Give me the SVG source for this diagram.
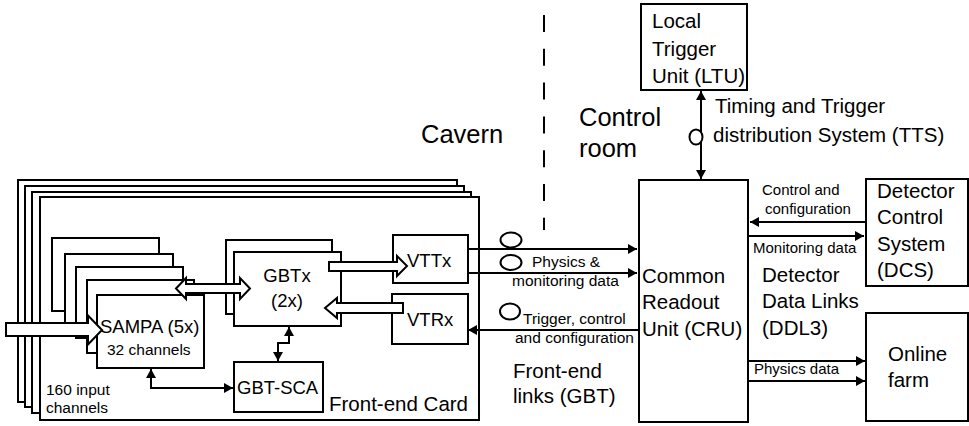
<svg xmlns="http://www.w3.org/2000/svg" width="969" height="426" viewBox="0 0 969 426">
<style>
.b{fill:#fff;stroke:#000;stroke-width:2}
.ba{fill:#fff;stroke:#000;stroke-width:2;stroke-linejoin:miter}
.l{fill:none;stroke:#000;stroke-width:2}
.ring{fill:#fff;stroke:#000;stroke-width:2}
text{font-family:"Liberation Sans",Arial,sans-serif;fill:#000}
.t26{font-size:25.5px}
.t21{font-size:20.5px}
.t18{font-size:18.5px}
.t15{font-size:15.5px}
.t15s{font-size:15px}
.m{text-anchor:middle}
</style>
<defs>
<marker id="ah" markerUnits="userSpaceOnUse" markerWidth="10" markerHeight="10" refX="9" refY="5" orient="auto-start-reverse">
<path d="M0,0 L9,5 L0,10 Z" fill="#000"/>
</marker>
</defs>

<line x1="544" y1="15" x2="544" y2="230" stroke="#000" stroke-width="2" stroke-dasharray="17 16.8"/>
<text class="t26" x="421" y="143">Cavern</text>
<text class="t26" x="579" y="126">Control</text>
<text class="t26" x="579" y="157">room</text>

<g id="frontend-card">
<rect class="b" x="18" y="180" width="439" height="222"/>
<rect class="b" x="25" y="186" width="439" height="221"/>
<rect class="b" x="32" y="192" width="439" height="221"/>
<rect class="b" x="40" y="197" width="439" height="223"/>
<text class="t21" x="329" y="411">Front-end Card</text>
<text class="t15" x="46" y="395">160 input</text>
<text class="t15" x="46" y="413">channels</text>
</g>

<g id="sampa">
<rect class="b" x="52" y="238" width="107" height="73"/>
<rect class="b" x="65" y="254" width="108" height="73"/>
<rect class="b" x="76" y="267" width="107" height="71"/>
<rect class="b" x="87" y="280" width="107" height="73"/>
<rect class="b" x="97" y="295" width="107" height="73"/>
<text class="t18" x="100" y="333">SAMPA (5x)</text>
<text class="t15" x="107" y="355">32 channels</text>
</g>

<g id="gbtx">
<rect class="b" x="226" y="240" width="106" height="74"/>
<rect class="b" x="234" y="252" width="107" height="74"/>
<text class="t18 m" x="287" y="282">GBTx</text>
<text class="t18 m" x="287" y="307">(2x)</text>
</g>

<g id="vttx">
<rect class="b" x="393" y="235" width="75" height="48"/>
<text class="t18" x="407" y="267">VTTx</text>
</g>

<g id="vtrx">
<rect class="b" x="392" y="294" width="76" height="50"/>
<text class="t18" x="407" y="326">VTRx</text>
</g>

<g id="gbt-sca">
<rect class="b" x="234" y="362" width="89" height="50"/>
<text class="t18" x="237" y="394">GBT-SCA</text>
</g>

<g id="ltu">
<rect class="b" x="641" y="4" width="106" height="86"/>
<text class="t21" x="652" y="28">Local</text>
<text class="t21" x="652" y="55.5">Trigger</text>
<text class="t21" x="652" y="83">Unit (LTU)</text>
</g>

<g id="cru">
<rect class="b" x="639" y="180" width="109" height="242"/>
<text class="t21" x="642" y="283">Common</text>
<text class="t21" x="642" y="309">Readout</text>
<text class="t21" x="642" y="336">Unit (CRU)</text>
</g>

<g id="dcs">
<rect class="b" x="866" y="179" width="102" height="107"/>
<text class="t21" x="877" y="198">Detector</text>
<text class="t21" x="877" y="224">Control</text>
<text class="t21" x="877" y="251">System</text>
<text class="t21" x="877" y="277">(DCS)</text>
</g>

<g id="online-farm">
<rect class="b" x="866" y="313" width="102" height="108"/>
<text class="t21" x="888" y="361">Online</text>
<text class="t21" x="888" y="387">farm</text>
</g>

<g id="connectors">
<path class="ba" d="M6,323 H88 V315.5 L102,330 L88,344.5 V336 H6 Z"/>
<path class="ba" d="M176,288.5 L186,278 V284 H240 V278 L250,288.5 L240,299 V293 H186 V299 Z"/>
<path class="ba" d="M329,262 H397 V256 L407,266 L397,276 V271 H329 Z"/>
<path class="ba" d="M403,303 H337 V298 L325,308 L337,318 V313 H403 Z"/>
<polyline class="l" points="151,369 151,388 233,388" marker-start="url(#ah)" marker-end="url(#ah)"/>
<polyline class="l" points="289,327 289,343 278,343 278,361" marker-start="url(#ah)" marker-end="url(#ah)"/>
<line class="l" x1="468" y1="249" x2="637" y2="249" marker-end="url(#ah)"/>
<line class="l" x1="468" y1="273" x2="637" y2="273" marker-end="url(#ah)"/>
<line class="l" x1="639" y1="330" x2="468" y2="330" marker-end="url(#ah)"/>
<line class="l" x1="701" y1="91" x2="701" y2="179" marker-start="url(#ah)" marker-end="url(#ah)"/>
<line class="l" x1="866" y1="222" x2="750" y2="222" marker-end="url(#ah)"/>
<line class="l" x1="748" y1="236" x2="864" y2="236" marker-end="url(#ah)"/>
<line class="l" x1="748" y1="361" x2="865" y2="361" marker-end="url(#ah)"/>
<line class="l" x1="748" y1="381" x2="865" y2="381" marker-end="url(#ah)"/>
<ellipse class="ring" cx="511" cy="240" rx="10.5" ry="7.5"/>
<ellipse class="ring" cx="511" cy="262.5" rx="10.5" ry="7.5"/>
<ellipse class="ring" cx="510" cy="311.5" rx="10" ry="8"/>
<ellipse class="ring" cx="696" cy="137" rx="6.5" ry="7.5"/>
</g>

<g id="labels">
<text class="t21" x="715" y="113">Timing and Trigger</text>
<text class="t21" x="713" y="142">distribution System (TTS)</text>
<text class="t15s" x="762" y="195">Control and</text>
<text class="t15s" x="765" y="214">configuration</text>
<text class="t15s" x="753" y="253">Monitoring data</text>
<text class="t21" x="762" y="282">Detector</text>
<text class="t21" x="762" y="308">Data Links</text>
<text class="t21" x="762" y="335">(DDL3)</text>
<text class="t15s" x="754" y="374">Physics data</text>
<text class="t15" x="532" y="267">Physics &amp;</text>
<text class="t15" x="512" y="286">monitoring data</text>
<text class="t15" x="523" y="324">Trigger, control</text>
<text class="t15" x="515" y="343">and configuration</text>
<text class="t21" x="513" y="378">Front-end</text>
<text class="t21" x="513" y="403">links (GBT)</text>
</g>
</svg>
